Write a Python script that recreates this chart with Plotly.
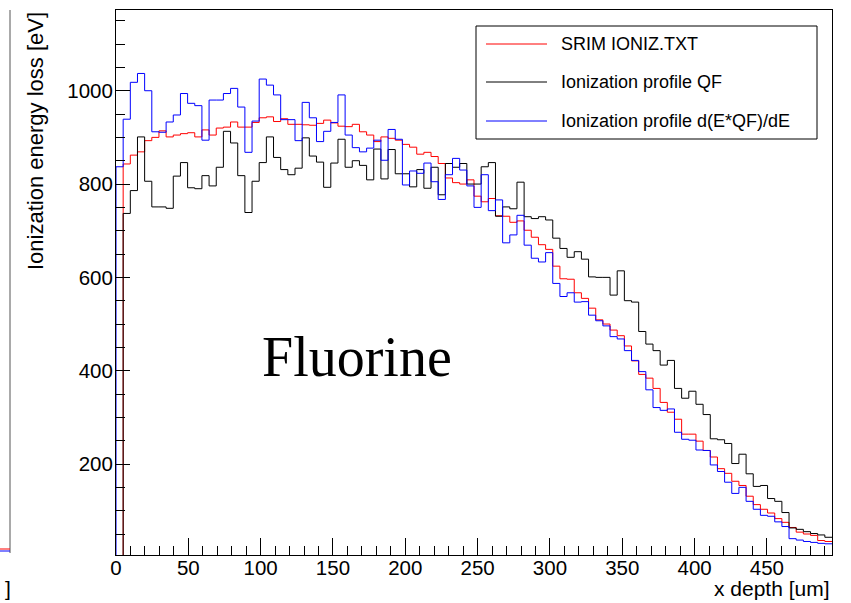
import numpy as np
import plotly.graph_objects as go

# ---- data: 100 bins over 0..495 um ----
x_min, x_max, n_bins = 0.0, 495.0, 100

srim = [0, 843, 862, 869, 893, 900, 914, 901, 905, 908,
        910, 901, 916, 905, 920, 922, 933, 922, 922, 932,
        942, 944, 934, 940, 928, 928, 927, 926, 930, 937,
        931, 924, 923, 928, 912, 905, 891, 901, 898, 894,
        885, 879, 864, 868, 859, 844, 813, 803, 800, 809,
        774, 762, 769, 732, 731, 718, 721, 701, 686, 670,
        660, 624, 597, 596, 567, 555, 534, 509, 500, 487,
        475, 453, 421, 392, 384, 362, 332, 311, 296, 264,
        264, 249, 229, 215, 190, 180, 163, 154, 131, 113,
        103, 95, 83, 75, 64, 54, 50, 47, 36, 34]

qf = [0, 737, 786, 901, 806, 751, 751, 748, 817, 846,
      792, 790, 818, 796, 836, 913, 888, 818, 739, 806,
      846, 901, 857, 831, 820, 834, 899, 860, 847, 793,
      845, 896, 836, 850, 840, 809, 875, 811, 874, 822,
      822, 794, 831, 791, 836, 777, 844, 836, 844, 800,
      800, 837, 846, 731, 751, 747, 804, 730, 726, 730,
      723, 684, 662, 643, 655, 639, 601, 600, 600, 562,
      614, 550, 547, 484, 457, 443, 412, 422, 362, 341,
      356, 328, 306, 254, 252, 244, 201, 221, 179, 152,
      154, 126, 120, 96, 63, 60, 55, 51, 48, 43]

dqf = [837, 939, 1018, 1037, 1000, 912, 911, 933, 948, 994,
       973, 968, 894, 980, 980, 994, 1005, 965, 868, 935,
       1025, 1012, 991, 938, 938, 893, 975, 942, 891, 913,
       932, 991, 905, 878, 869, 877, 894, 851, 917, 896,
       798, 828, 823, 845, 805, 767, 820, 855, 830, 796,
       750, 820, 743, 766, 674, 691, 733, 669, 641, 633,
       653, 587, 559, 567, 547, 548, 519, 507, 496, 473,
       468, 443, 422, 398, 359, 321, 315, 318, 268, 253,
       251, 230, 229, 198, 184, 161, 137, 150, 120, 103,
       90, 88, 76, 66, 40, 37, 34, 32, 30, 29]

series_names = ["SRIM IONIZ.TXT", "Ionization profile QF",
                "Ionization profile d(E*QF)/dE"]
series_colors = ["#ff0000", "#000000", "#0000ff"]

x_ticks = [0, 50, 100, 150, 200, 250, 300, 350, 400, 450]
y_ticks = [200, 400, 600, 800, 1000]
y_range = [5, 1173]

edges = np.linspace(x_min, x_max, n_bins + 1)

W, H = 851, 603
ML, MR, MT, MB = 116, 19, 10, 48
PW, PH = W - ML - MR, H - MT - MB


def px_x(p):
    return (p - ML) / PW


def px_y(p):
    return (H - MB - p) / PH


fig = go.Figure()
for vals, name, col in zip([srim, qf, dqf], series_names, series_colors):
    v = np.asarray(vals, dtype=float)
    xs = np.concatenate([[edges[0]], edges])
    ys = np.concatenate([[0.0], v, [v[-1]]])
    fig.add_trace(go.Scatter(x=xs, y=ys, mode="lines", name=name,
                             line=dict(color=col, width=1, shape="hv"),
                             showlegend=False, hoverinfo="skip"))

fig.update_layout(
    width=W, height=H,
    margin=dict(l=ML, r=MR, t=MT, b=MB),
    paper_bgcolor="white", plot_bgcolor="white",
    font=dict(family="Liberation Sans, Arial, sans-serif", color="black"),
)
fig.update_xaxes(range=[x_min, x_max], tickvals=x_ticks,
                 ticks="inside", ticklen=17, tickwidth=1, tickcolor="black",
                 minor=dict(ticks="inside", ticklen=9, dtick=10, tick0=0,
                            tickcolor="black", tickwidth=1),
                 showline=True, linecolor="black", linewidth=1, mirror=True,
                 showgrid=False, zeroline=False, ticklabelstandoff=-6,
                 tickfont=dict(size=20.5))
fig.update_yaxes(range=y_range, tickvals=y_ticks,
                 ticks="inside", ticklen=14, tickwidth=1, tickcolor="black",
                 minor=dict(ticks="inside", ticklen=9, dtick=50, tick0=0,
                            tickcolor="black", tickwidth=1),
                 showline=True, linecolor="black", linewidth=1, mirror=True,
                 showgrid=False, zeroline=False, ticklabelstandoff=-2,
                 tickfont=dict(size=20.5))

# axis titles (ROOT style, aligned at axis end)
fig.add_annotation(text="x depth [um]", xref="paper", yref="paper",
                   x=1.0, y=px_y(589), xanchor="right", yanchor="middle",
                   showarrow=False, font=dict(size=21))
fig.add_annotation(text="Ionization energy loss [eV]", xref="paper", yref="paper",
                   x=px_x(35), y=1.0, xanchor="center", yanchor="top",
                   textangle=-90, showarrow=False, font=dict(size=22))
fig.add_annotation(text="Fluorine", xref="paper", yref="paper",
                   x=px_x(357), y=px_y(357), xanchor="center", yanchor="middle",
                   showarrow=False,
                   font=dict(size=56, family="Liberation Serif, Times New Roman, serif"))

# legend box (ROOT TLegend look)
lx0, lx1, ly0, ly1 = 476, 817, 26, 139
fig.add_shape(type="rect", xref="paper", yref="paper",
              x0=px_x(lx0), x1=px_x(lx1), y0=px_y(ly1), y1=px_y(ly0),
              line=dict(color="black", width=1), fillcolor="white", layer="above")
rows = [44, 82, 121]
for yy, name, col in zip(rows, series_names, series_colors):
    fig.add_shape(type="line", xref="paper", yref="paper",
                  x0=px_x(486), x1=px_x(547), y0=px_y(yy), y1=px_y(yy),
                  line=dict(color=col, width=1), layer="above")
    fig.add_annotation(text=name, xref="paper", yref="paper",
                       x=px_x(559), y=px_y(yy), xanchor="left", yanchor="middle",
                       showarrow=False, font=dict(size=18))

# remnant of neighbouring pad at the far left
fig.add_shape(type="line", xref="paper", yref="paper",
              x0=px_x(10), x1=px_x(10), y0=px_y(553), y1=px_y(10),
              line=dict(color="#555555", width=1))
fig.add_shape(type="line", xref="paper", yref="paper",
              x0=px_x(0), x1=px_x(10), y0=px_y(549), y1=px_y(549),
              line=dict(color="#ff0000", width=1))
fig.add_shape(type="line", xref="paper", yref="paper",
              x0=px_x(0), x1=px_x(10), y0=px_y(551), y1=px_y(551),
              line=dict(color="#0000ff", width=1))
fig.add_annotation(text="]", xref="paper", yref="paper",
                   x=px_x(8), y=px_y(589), xanchor="center", yanchor="middle",
                   showarrow=False, font=dict(size=21))

fig.write_html("out.html")
